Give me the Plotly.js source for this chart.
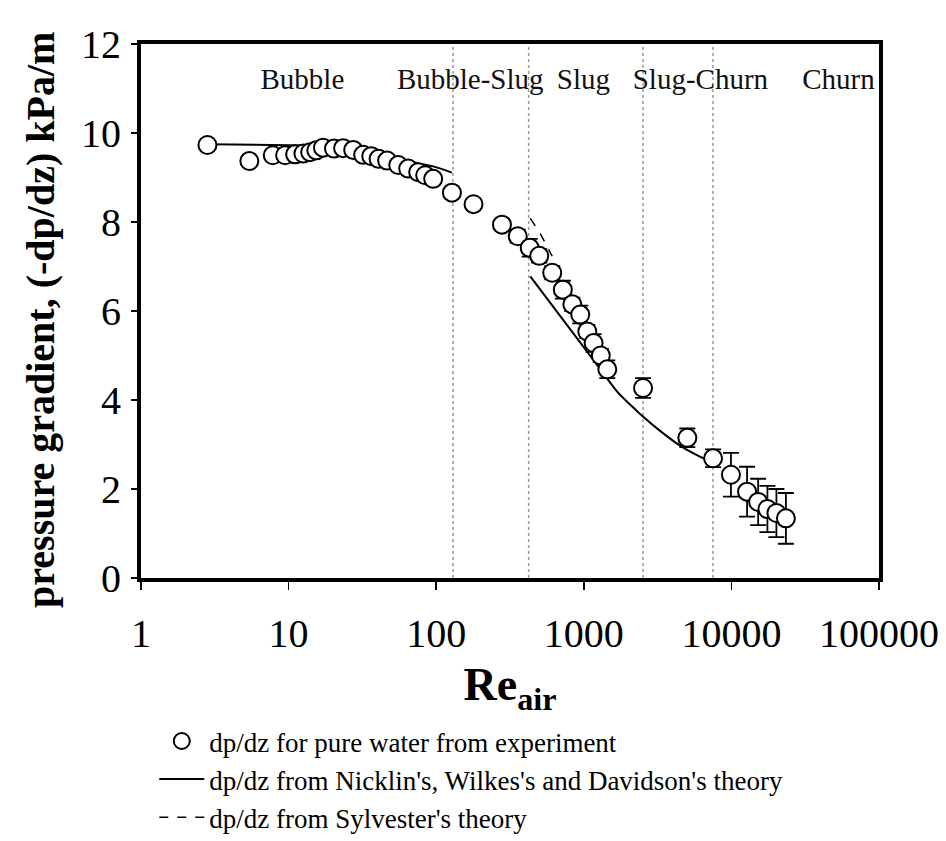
<!DOCTYPE html>
<html>
<head>
<meta charset="utf-8">
<script src="https://cdn.plot.ly/plotly-3.0.1.min.js"></script>
<style>html,body{margin:0;padding:0;background:#fff;}#chart{width:946px;height:841px;}</style>
</head>
<body>
<div id="chart"></div>
<script>
// Experimental data: Re_air vs pressure gradient (kPa/m)
var reExp = [2.82, 5.42, 7.81, 9.47, 11.07, 12.6, 14.0, 15.4, 17.1, 20.3, 23.4, 27.4, 32.0, 36.3, 40.7, 46.5, 55.3, 64.6, 75.5, 84.2, 95.4,
             127.8, 179, 279, 357, 430, 499, 611, 721, 836, 946, 1056, 1165, 1304, 1443,
             2519, 5030, 7513, 9930, 12770, 15180, 17540, 20180, 23400];
var dpExp = [9.73, 9.37, 9.50, 9.50, 9.52, 9.54, 9.57, 9.61, 9.67, 9.65, 9.66, 9.62, 9.51, 9.48, 9.42, 9.38, 9.28, 9.20, 9.12, 9.05, 8.97,
             8.66, 8.40, 7.94, 7.68, 7.42, 7.24, 6.86, 6.48, 6.15, 5.92, 5.54, 5.28, 5.00, 4.69,
             4.27, 3.15, 2.69, 2.32, 1.94, 1.71, 1.55, 1.46, 1.34];
var errExp = [0.1, 0.1, 0.1, 0.1, 0.1, 0.1, 0.1, 0.1, 0.1, 0.1, 0.1, 0.1, 0.1, 0.1, 0.1, 0.1, 0.1, 0.1, 0.1, 0.1, 0.1,
              0.1, 0.1, 0.12, 0.15, 0.2, 0.15, 0.15, 0.2, 0.15, 0.2, 0.15, 0.2, 0.15, 0.2,
              0.22, 0.21, 0.2, 0.49, 0.56, 0.52, 0.52, 0.54, 0.57];

// Nicklin, Wilkes and Davidson theory (two segments)
var reNicklin = [2.84, 13.3, 22.3, 37.3, 63.2, 95.5, 127.8, null, 434, 903, 1294, 1700, 2100, 2416, 3303, 4510, 6166, 7435];
var dpNicklin = [9.75, 9.72, 9.70, 9.57, 9.37, 9.25, 9.11, null, 6.78, 5.38, 4.69, 4.17, 3.87, 3.68, 3.30, 2.97, 2.72, 2.59];

// Sylvester theory
var reSylvester = [434, 507, 611];
var dpSylvester = [8.08, 7.74, 7.23];

// Flow regime boundaries and labels
var regimeBounds = [130, 423, 2520, 7500];
var regimeNames = ['Bubble', 'Bubble-Slug', 'Slug', 'Slug-Churn', 'Churn'];
var regimeLabelX = [12.4, 170, 993, 6166, 53100];
var regimeLabelY = [11.15, 11.15, 11.15, 11.15, 11.15];

var xTickVals = [1, 10, 100, 1000, 10000, 100000];
var xTickText = ['1', '10', '100', '1000', '10000', '100000'];
var yTickVals = [0, 2, 4, 6, 8, 10, 12];

var serif = 'Liberation Serif';

var traces = [];
regimeBounds.forEach(function (b) {
  traces.push({
    x: [b, b], y: [0, 12], mode: 'lines', showlegend: false, hoverinfo: 'skip',
    line: {color: '#999', width: 1.5, dash: 'dot'}
  });
});
traces.push({
  x: regimeLabelX, y: regimeLabelY, mode: 'text', text: regimeNames, showlegend: false,
  textfont: {family: serif, size: 29, color: '#111'}, cliponaxis: false, hoverinfo: 'skip'
});
traces.push({
  x: reSylvester, y: dpSylvester, mode: 'lines', name: "dp/dz from Sylvester's theory",
  line: {color: '#000', width: 1.5, dash: 'dash'}
});
traces.push({
  x: reNicklin, y: dpNicklin, mode: 'lines', name: "dp/dz from Nicklin's, Wilkes's and Davidson's theory",
  line: {color: '#000', width: 2, shape: 'spline', smoothing: 0.8}, connectgaps: false
});
traces.push({
  x: reExp, y: dpExp, mode: 'markers', name: 'dp/dz for pure water from experiment',
  marker: {symbol: 'circle', size: 18, color: '#fff', line: {color: '#000', width: 2}},
  error_y: {type: 'data', array: errExp, visible: true, color: '#000', thickness: 1.8, width: 8}
});

var layout = {
  width: 946, height: 841,
  margin: {l: 141, r: 67, t: 44, b: 263},
  paper_bgcolor: '#fff', plot_bgcolor: '#fff',
  font: {family: serif, color: '#000'},
  showlegend: true,
  legend: {
    xref: 'paper', yref: 'container',
    x: 0.018, y: 0.1475, xanchor: 'left', yanchor: 'top',
    font: {family: serif, size: 27, color: '#000'},
    traceorder: 'reversed', itemwidth: 45, bgcolor: 'rgba(0,0,0,0)', tracegroupgap: 0
  },
  annotations: [{
    text: '<b>pressure gradient, (-dp/dz) kPa/m</b>', textangle: -90,
    xref: 'paper', yref: 'paper', x: -0.137, y: 0.483, xanchor: 'center', yanchor: 'middle',
    showarrow: false, font: {family: serif, size: 40, color: '#000'}
  }],
  xaxis: {
    type: 'log', range: [0, 5], tickvals: xTickVals, ticktext: xTickText, automargin: false,
    showline: true, linewidth: 4, linecolor: '#000', mirror: true,
    ticks: 'outside', ticklen: 8, tickwidth: 1.5, tickcolor: '#000',
    showgrid: false, zeroline: false, ticklabelstandoff: 9,
    tickfont: {family: serif, size: 40, color: '#000'},
    title: {text: '<b>Re<sub>air</sub></b>', font: {family: serif, size: 46, color: '#000'}, standoff: 16}
  },
  yaxis: {
    range: [0, 12], tickvals: yTickVals, automargin: false,
    showline: true, linewidth: 4, linecolor: '#000', mirror: true,
    ticks: 'outside', ticklen: 6, tickwidth: 1.5, tickcolor: '#000',
    showgrid: false, zeroline: false, ticklabelstandoff: 2,
    tickfont: {family: serif, size: 40, color: '#000'}
  }
};

Plotly.newPlot('chart', traces, layout, {displayModeBar: false, staticPlot: true});
</script>
</body>
</html>
